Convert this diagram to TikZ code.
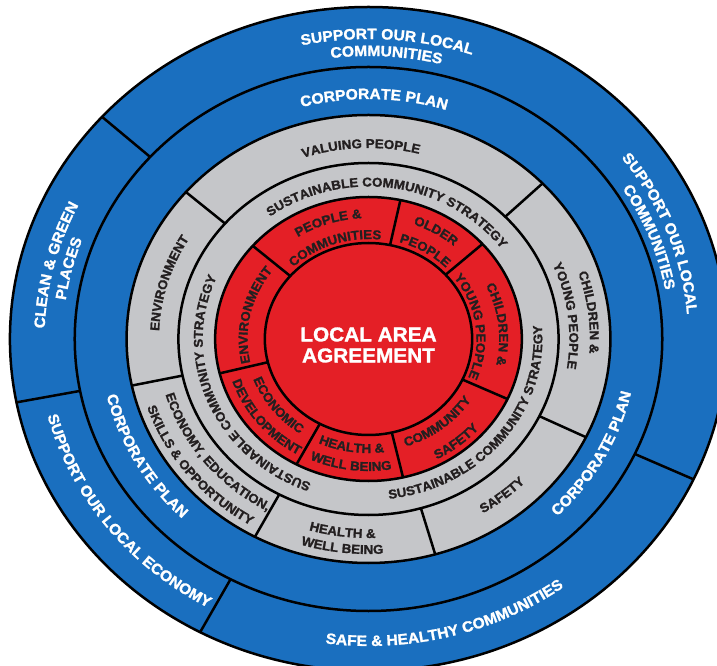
\documentclass[tikz,border=0pt]{standalone}
\usepackage{fontspec}
\setmainfont{Liberation Sans}
\newfontfamily\ringfont{Liberation Sans}[FakeStretch=1.04, BoldFeatures={FakeBold=1.4}]
\usetikzlibrary{decorations.text}
\definecolor{lapblue}{HTML}{1A6FBF}
\definecolor{lapred}{HTML}{E41F26}
\definecolor{lapgrey}{HTML}{C5C6C9}
\definecolor{lapink}{HTML}{231F20}
\newcommand{\bluetext}{\ringfont\bfseries\fontsize{15}{15}\selectfont\color{white}}
\newcommand{\greytext}{\ringfont\bfseries\fontsize{12.8}{12.8}\selectfont\color{lapink}}
\newcommand{\redtext}{\ringfont\bfseries\fontsize{12.8}{12.8}\selectfont\color{lapink}}
\tikzset{
  ringline/.style={draw=black, line width=2.5pt},
  arctext/.style 2 args={decorate, decoration={text along path, text align=center, text format delimiters={|}{|}, text={|#1|#2}}},
}
\begin{document}
\begin{tikzpicture}[x=1.08pt, y=1pt]
            \useasboundingbox (-368.5pt,-327pt) rectangle (348.5pt,339pt);
            \filldraw[ringline, fill=lapblue] (0,0) circle[radius=332];
            \draw[ringline] (0,0) circle[radius=272];
            \foreach \a in {138,191,242,335}
                \draw[ringline] (\a:272) -- (\a:332);
            \filldraw[ringline, fill=lapgrey] (0,0) circle[radius=224];
            \draw[ringline] (0,0) circle[radius=176];
            \foreach \a in {44,139,192,242,286,334}
                \draw[ringline] (\a:176) -- (\a:224);
            \filldraw[ringline, fill=lapred] (0,0) circle[radius=142];
            \foreach \a in {42,78,139,194,242,283,335}
                \draw[ringline] (\a:90) -- (\a:142);
            \filldraw[ringline, fill=lapred] (0,0) circle[radius=96];
            \node[text=white, align=center, font=\ringfont\bfseries\fontsize{20}{21}\selectfont] (laa) at (0,-6) {LOCAL AREA\\AGREEMENT};
            \path[arctext={\bluetext}{SUPPORT OUR LOCAL}] (136.5:300) arc[start angle=136.5, end angle=36.5, radius=300];
            \path[arctext={\bluetext}{COMMUNITIES}] (136.5:283) arc[start angle=136.5, end angle=36.5, radius=283];
            \path[arctext={\bluetext}{SUPPORT OUR LOCAL}] (70.5:296) arc[start angle=70.5, end angle=-29.5, radius=296];
            \path[arctext={\bluetext}{COMMUNITIES}] (70.5:279) arc[start angle=70.5, end angle=-29.5, radius=279];
            \path[arctext={\bluetext}{CLEAN {\&} GREEN}] (216.3:300) arc[start angle=216.3, end angle=116.3, radius=300];
            \path[arctext={\bluetext}{PLACES}] (216.4:283) arc[start angle=216.4, end angle=116.4, radius=283];
            \path[arctext={\bluetext}{SUPPORT OUR LOCAL ECONOMY}] (156.5:307) arc[start angle=156.5, end angle=276.5, radius=307];
            \path[arctext={\bluetext}{SAFE {\&} HEALTHY COMMUNITIES}] (234.8:307) arc[start angle=234.8, end angle=334.8, radius=307];
            \path[arctext={\bluetext}{CORPORATE PLAN}] (138.7:240) arc[start angle=138.7, end angle=38.7, radius=240];
            \path[arctext={\bluetext}{CORPORATE PLAN}] (158.7:249) arc[start angle=158.7, end angle=258.7, radius=249];
            \path[arctext={\bluetext}{CORPORATE PLAN}] (282:249) arc[start angle=282, end angle=382, radius=249];
            \path[arctext={\greytext}{VALUING PEOPLE}] (142.2:191) arc[start angle=142.2, end angle=42.2, radius=191];
            \path[arctext={\greytext}{SUSTAINABLE COMMUNITY STRATEGY}] (151.2:152.5) arc[start angle=151.2, end angle=11.2, radius=152.5];
            \path[arctext={\greytext}{ENVIRONMENT}] (213.9:194) arc[start angle=213.9, end angle=113.9, radius=194];
            \path[arctext={\greytext}{SUSTAINABLE COMMUNITY STRATEGY}] (272.5:153.5) arc[start angle=272.5, end angle=132.5, radius=153.5];
            \path[arctext={\greytext}{ECONOMY, EDUCATION,}] (168:196) arc[start angle=168, end angle=268, radius=196];
            \path[arctext={\greytext}{SKILLS {\&} OPPORTUNITY}] (168:216) arc[start angle=168, end angle=268, radius=216];
            \path[arctext={\greytext}{HEALTH {\&}}] (212.6:199) arc[start angle=212.6, end angle=312.6, radius=199];
            \path[arctext={\greytext}{WELL BEING}] (213.1:215) arc[start angle=213.1, end angle=313.1, radius=215];
            \path[arctext={\greytext}{SAFETY}] (259.5:204) arc[start angle=259.5, end angle=359.5, radius=204];
            \path[arctext={\greytext}{SUSTAINABLE COMMUNITY STRATEGY}] (251.7:161) arc[start angle=251.7, end angle=391.7, radius=161];
            \path[arctext={\greytext}{CHILDREN {\&}}] (57.1:205) arc[start angle=57.1, end angle=-42.9, radius=205];
            \path[arctext={\greytext}{YOUNG PEOPLE}] (56.9:186) arc[start angle=56.9, end angle=-43.1, radius=186];
            \path[arctext={\redtext}{PEOPLE {\&}}] (158.5:121) arc[start angle=158.5, end angle=58.5, radius=121];
            \path[arctext={\redtext}{COMMUNITIES}] (159.3:100) arc[start angle=159.3, end angle=59.3, radius=100];
            \path[arctext={\redtext}{OLDER}] (108.8:122) arc[start angle=108.8, end angle=8.8, radius=122];
            \path[arctext={\redtext}{PEOPLE}] (108.2:101) arc[start angle=108.2, end angle=8.2, radius=101];
            \path[arctext={\redtext}{CHILDREN {\&}}] (56.7:121) arc[start angle=56.7, end angle=-43.3, radius=121];
            \path[arctext={\redtext}{YOUNG PEOPLE}] (57.4:100) arc[start angle=57.4, end angle=-42.6, radius=100];
            \path[arctext={\redtext}{COMMUNITY}] (258.5:113) arc[start angle=258.5, end angle=358.5, radius=113];
            \path[arctext={\redtext}{SAFETY}] (259.4:136) arc[start angle=259.4, end angle=359.4, radius=136];
            \path[arctext={\redtext}{HEALTH {\&}}] (211.4:114) arc[start angle=211.4, end angle=311.4, radius=114];
            \path[arctext={\redtext}{WELL BEING}] (212.3:132) arc[start angle=212.3, end angle=312.3, radius=132];
            \path[arctext={\redtext}{ECONOMIC}] (167.4:114) arc[start angle=167.4, end angle=267.4, radius=114];
            \path[arctext={\redtext}{DEVELOPMENT}] (168.6:133) arc[start angle=168.6, end angle=268.6, radius=133];
            \path[arctext={\redtext}{ENVIRONMENT}] (217.7:112) arc[start angle=217.7, end angle=117.7, radius=112];
        \end{tikzpicture}
\end{document}
